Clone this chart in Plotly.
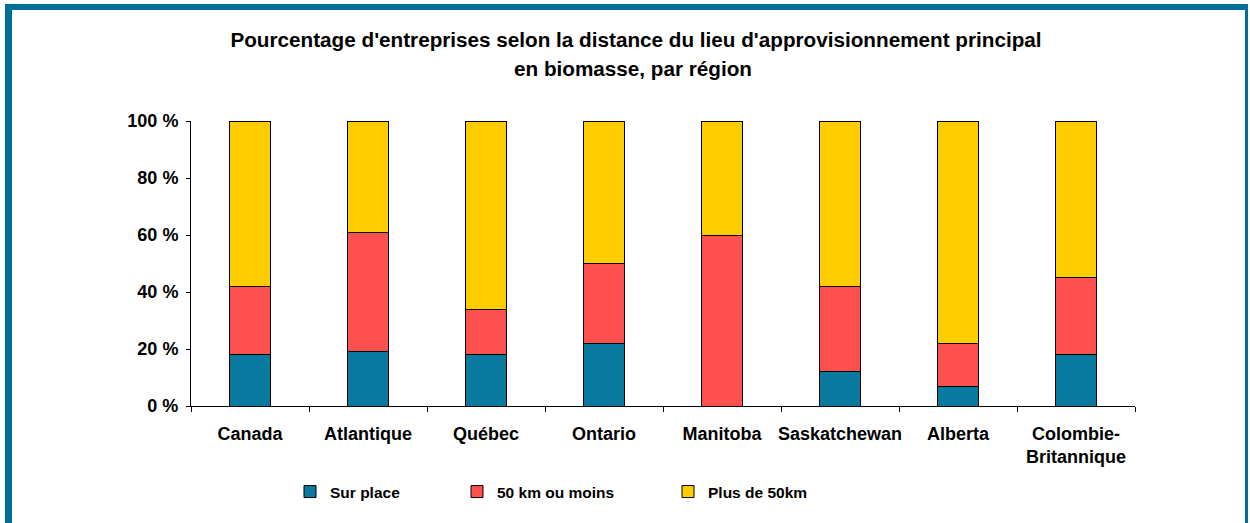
import plotly.graph_objects as go

regions = ["Canada", "Atlantique", "Québec", "Ontario", "Manitoba",
           "Saskatchewan", "Alberta", "Colombie-<br>Britannique"]
sur_place = [18, 19, 18, 22, 0, 12, 7, 18]
moins_50 = [24, 42, 16, 28, 60, 30, 15, 27]
plus_50 = [58, 39, 66, 50, 40, 58, 78, 55]

FONT = "Arial, Liberation Sans, sans-serif"
BORDER = "#006E99"

# plot area in pixels: x 191..1135, y 121..406
W, H = 1250, 523
L, R, T, B = 191, 1135, 121, 406


def px_x(x):
    return (x - L) / (R - L)


def px_y(y):
    return (B - y) / (B - T)


series = [
    ("Sur place", sur_place, "#0A79A0", "legend", 310),
    ("50 km ou moins", moins_50, "#FF5050", "legend2", 477),
    ("Plus de 50km", plus_50, "#FFCC00", "legend3", 688),
]

fig = go.Figure()
for name, vals, col, leg, _ in series:
    fig.add_trace(go.Bar(
        x=regions, y=vals, name="<b>" + name + "</b>", legend=leg,
        marker=dict(color=col, line=dict(color="black", width=1)),
    ))

legend_style = dict(
    orientation="h", xanchor="left", yanchor="middle",
    yref="container", xref="container",
    font=dict(family=FONT, size=15.5, color="black"),
    itemwidth=30, bgcolor="rgba(0,0,0,0)",
)
layouts = {}
for name, vals, col, leg, xpos in series:
    layouts[leg] = dict(legend_style, x=(xpos - 20) / W, y=1 - 492 / H)

fig.update_layout(
    width=W, height=H,
    margin=dict(l=L, r=W - R, t=T, b=H - B, autoexpand=False),
    barmode="stack", bargap=0.65,
    plot_bgcolor="white", paper_bgcolor="white",
    font=dict(family=FONT, size=18, color="black"),
    title=dict(
        text="<b>Pourcentage d'entreprises selon la distance du lieu d'approvisionnement principal</b>",
        x=636 / W, xanchor="center", y=1 - 40 / H, yanchor="middle",
        font=dict(family=FONT, size=20.7, color="black"),
    ),
    annotations=[dict(
        text="<b>en biomasse, par région</b>", showarrow=False,
        xref="paper", yref="paper", x=px_x(633), y=px_y(68),
        xanchor="center", yanchor="middle",
        font=dict(family=FONT, size=20.7, color="black"),
    )],
    xaxis=dict(
        showline=True, linecolor="black", linewidth=1, automargin=False,
        ticks="outside", tickson="boundaries", ticklen=5, tickcolor="black",
        tickfont=dict(family=FONT, size=18, color="black"), tickangle=0,
        tickprefix="<b>", ticksuffix="</b>", ticklabelstandoff=11,
        showgrid=False,
    ),
    yaxis=dict(
        range=[0, 100], dtick=20, showgrid=False, zeroline=False,
        showline=True, linecolor="black", linewidth=1, automargin=False,
        ticks="outside", ticklen=4, tickcolor="black",
        tickfont=dict(family=FONT, size=18, color="black"),
        tickprefix="<b>", ticksuffix=" %</b>", ticklabelstandoff=4,
    ),
    showlegend=True,
    **layouts,
)

# blue frame around the chart
frame = [
    (5, 4, 12, 540),
    (5, 4, 1248, 10),
    (1245, 4, 1248, 540),
]
for x0, y0, x1, y1 in frame:
    fig.add_shape(type="rect", xref="paper", yref="paper",
                  x0=px_x(x0), x1=px_x(x1), y0=px_y(y0), y1=px_y(y1),
                  fillcolor=BORDER, line=dict(width=0), layer="above")

# page body has a default 8px margin; drop it so the figure sits at 0,0
fig.write_html("out.html", config={"displayModeBar": False},
               post_script="document.body.style.margin='0';")
